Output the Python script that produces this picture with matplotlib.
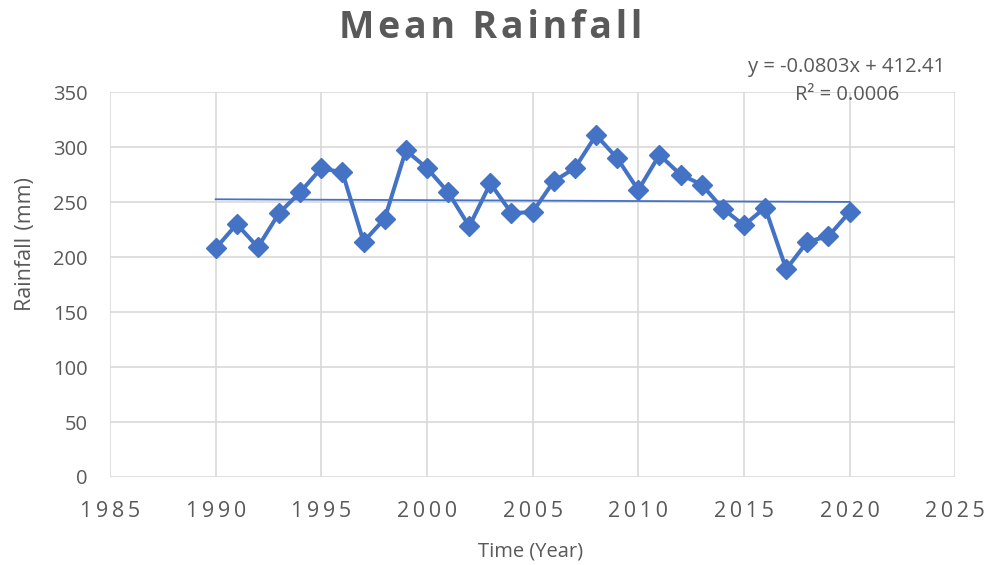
import numpy as np
import matplotlib.pyplot as plt

years = list(range(1990, 2021))
rainfall = [208, 230, 209, 240, 259, 281, 277, 214, 235, 297, 281, 259, 228, 267, 240,
            241, 269, 281, 311, 290, 261, 293, 275, 266, 244, 229, 245, 189, 214, 219, 241]

# trend line as reported in the chart
slope = -0.0803
intercept = 412.41
r2 = 0.0006

xticks = [1985, 1990, 1995, 2000, 2005, 2010, 2015, 2020, 2025]
yticks = [0, 50, 100, 150, 200, 250, 300, 350]

gray = '#595959'
blue = '#4472C4'

plt.rcParams['font.family'] = ['Open Sans', 'DejaVu Sans']

fig = plt.figure(figsize=(9.98, 5.65), dpi=100)
ax = fig.add_axes([0.1102, 0.1558, 0.847, 0.681])

ax.plot(years, rainfall, color=blue, linewidth=2.9, marker='D', markersize=10,
        markerfacecolor=blue, markeredgecolor=blue, zorder=3)

trend_x = np.array([years[0], years[-1]])
ax.plot(trend_x, slope * trend_x + intercept, color=blue, linewidth=1.3, zorder=2)

ax.set_xlim(1985, 2025)
ax.set_ylim(0, 350)
ax.set_xticks(xticks)
ax.set_yticks(yticks)
ax.set_xticklabels(['\u2009'.join(str(t)) for t in xticks])
ax.tick_params(axis='x', length=0, pad=17, labelsize=15.5, labelcolor=gray)
ax.tick_params(axis='y', length=0, pad=16, labelsize=14.5, labelcolor=gray)
ax.grid(True, color='#d9d9d9', linewidth=1.2)
ax.set_axisbelow(True)
for s in ax.spines.values():
    s.set_visible(False)

fig.text(531 / 998, 1 - 552 / 565, 'Time (Year)', ha='center', va='center',
         fontsize=14.5, color=gray)
fig.text(25 / 998, 1 - 244 / 565, 'Rainfall\u2009\u2009(mm)', ha='center', va='center',
         rotation=90, fontsize=15.5, color=gray)

fig.text(491 / 998, 1 - 28 / 565, '\u200a'.join('Mean Rainfall'),
         ha='center', va='center', fontsize=27, fontweight='bold', color=gray)

fig.text(847 / 998, 1 - 67 / 565, 'y = %.4fx + %.2f' % (slope, intercept), ha='center', va='center',
         fontsize=14.5, color=gray)
fig.text(847 / 998, 1 - 95 / 565, 'R\u00b2 = %.4f' % r2, ha='center', va='center',
         fontsize=14.5, color=gray)

fig.savefig('out.png', dpi=100)
